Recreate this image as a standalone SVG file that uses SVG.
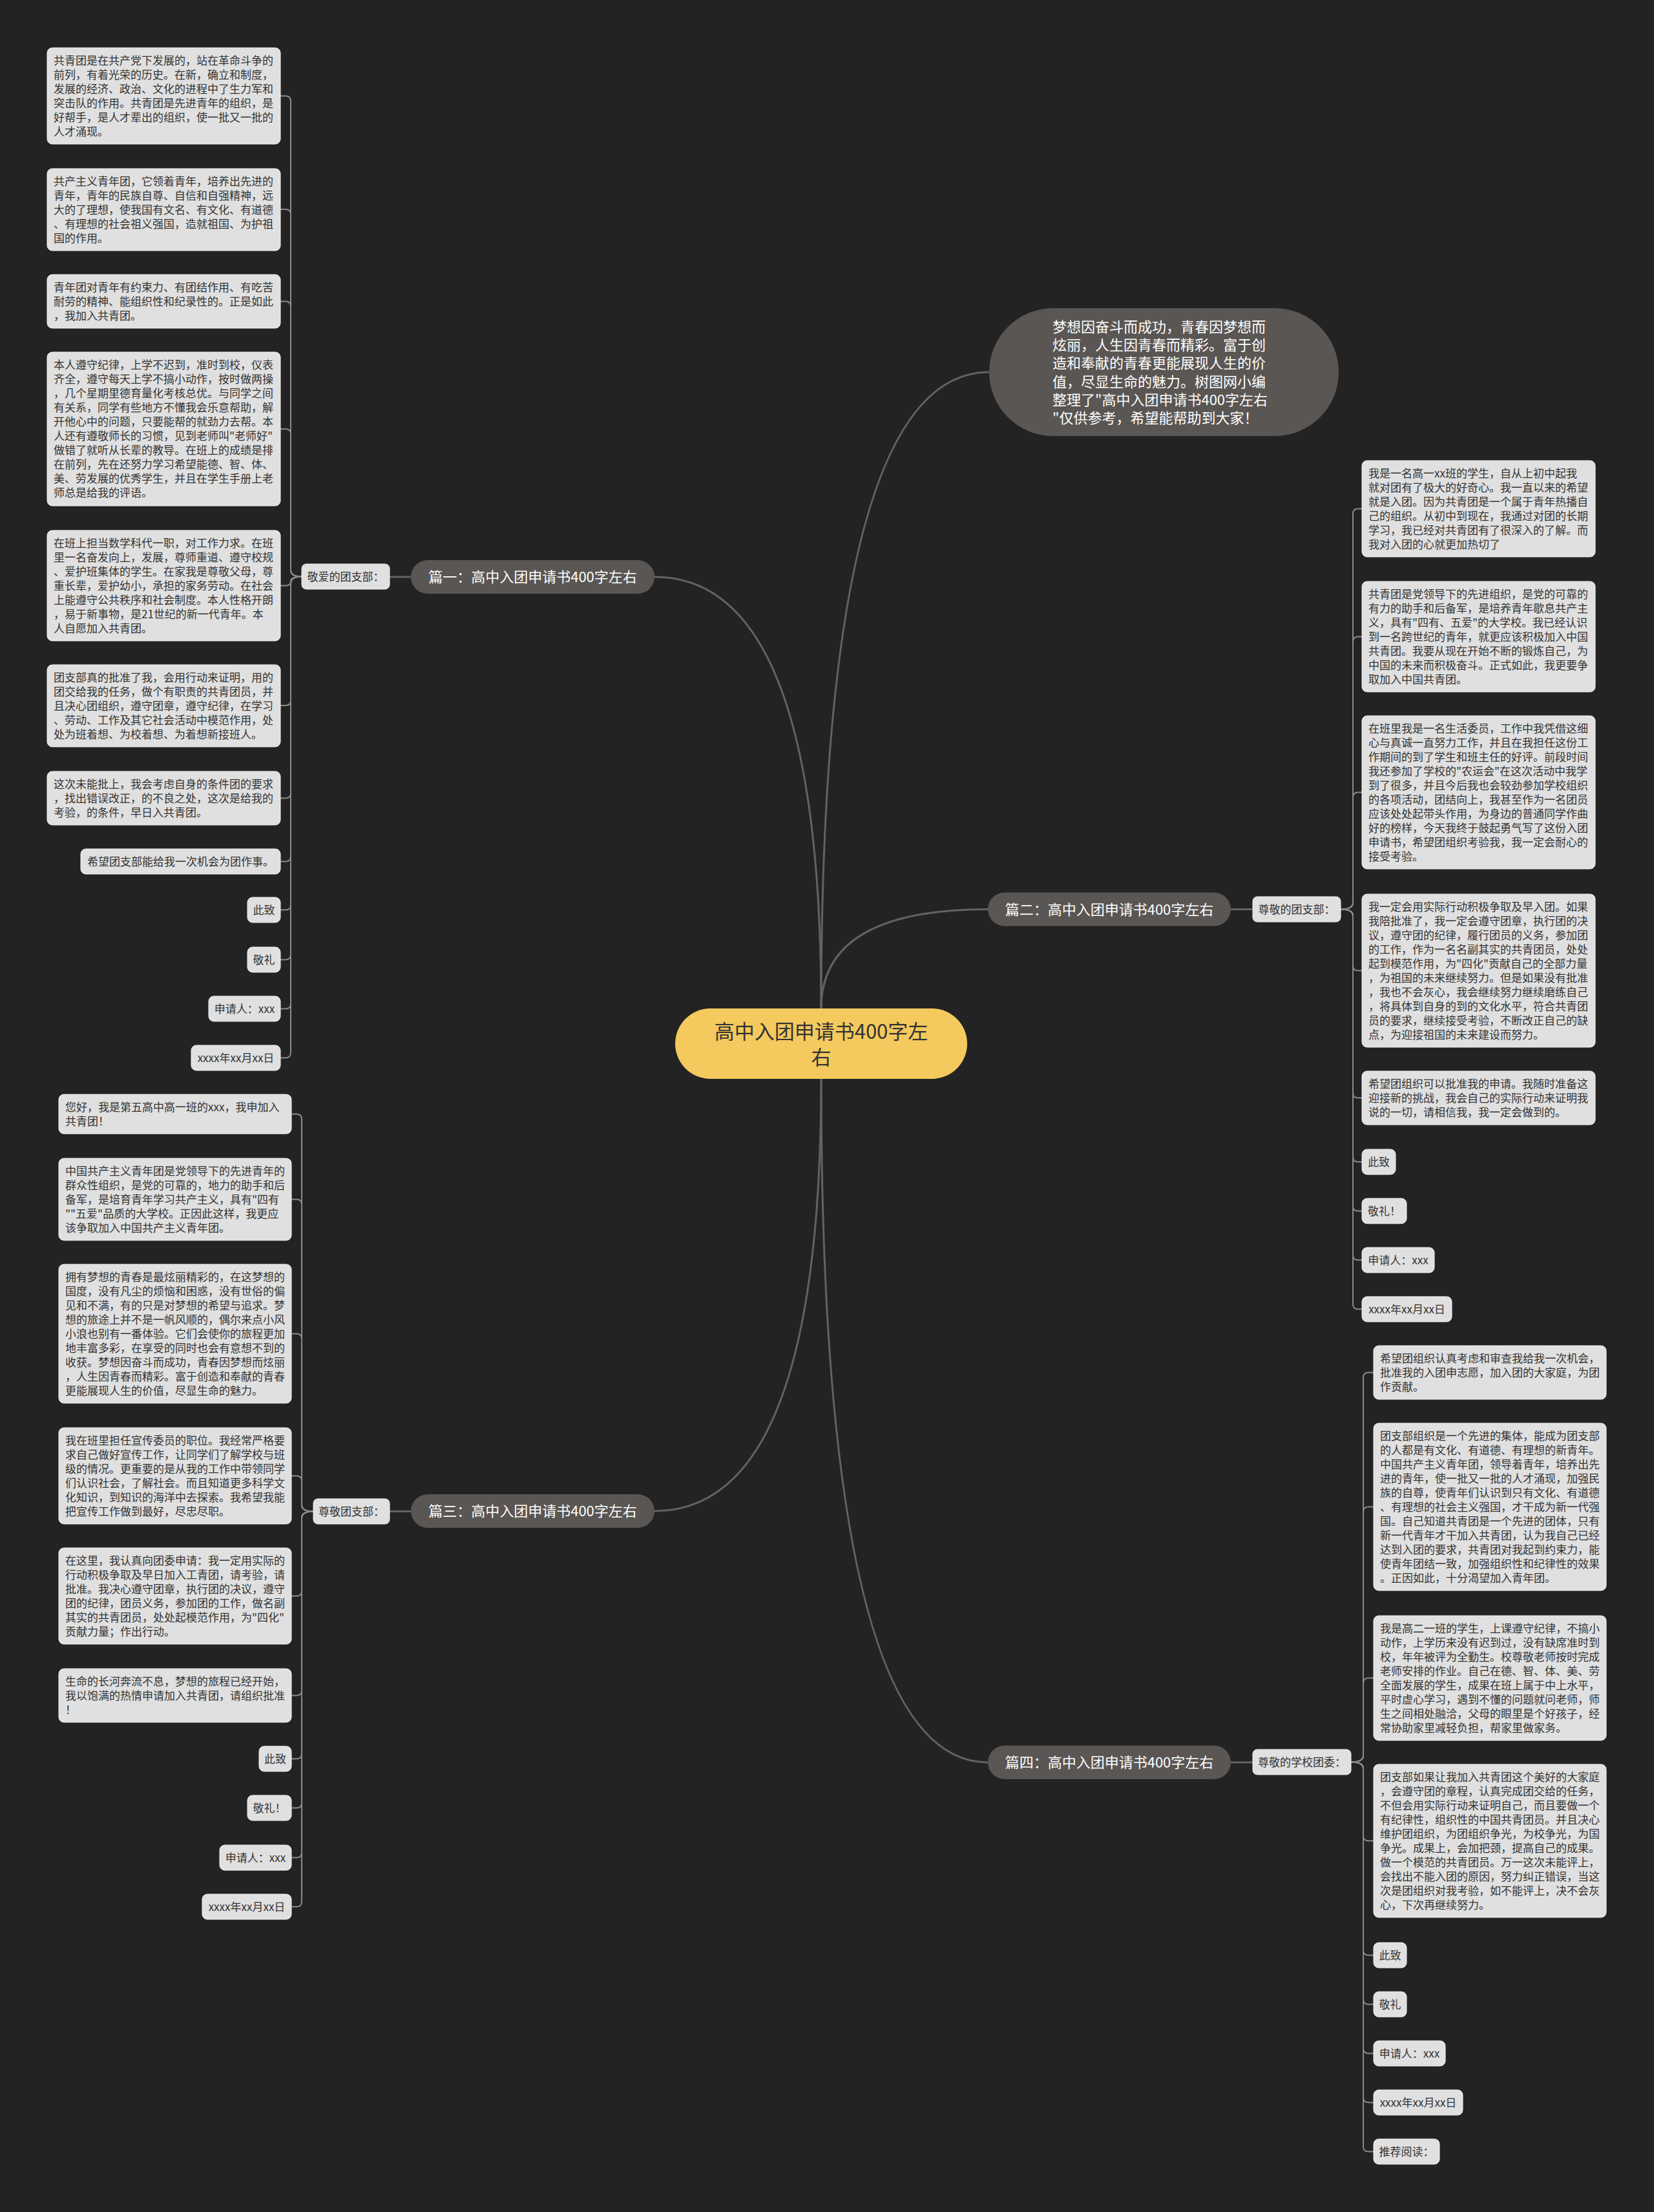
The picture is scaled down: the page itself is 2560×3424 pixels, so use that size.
<svg xmlns="http://www.w3.org/2000/svg" width="2560" height="3424" viewBox="0 0 2560 3424">
<style>
text{font-family:"Noto Sans CJK SC","Noto Sans",sans-serif;}
.leaf{fill:#e0e0e0;stroke:#f0f0f0;stroke-width:1}
.lt{font-size:17px;fill:#333333}
.ltc{font-size:17px;fill:#333333;text-anchor:middle}
.br{fill:#5a5653}
.bt{font-size:22px;fill:#ffffff;text-anchor:middle}
.it{font-size:22px;fill:#ffffff}
.ct{font-size:31px;fill:#333333;text-anchor:middle}
.c1{fill:none;stroke:#636363;stroke-width:3}
.c2{fill:none;stroke:#8a8a8a;stroke-width:2}
</style>
<rect width="2560" height="3424" fill="#232323"/>
<g id="connectors">
<path class="c1" d="M1271 1561Q1271 893 1013 893"/>
<path class="c1" d="M1271 1561Q1271 576 1531 576"/>
<path class="c1" d="M1271 1561Q1271 1407.5 1529 1407.5"/>
<path class="c1" d="M1271 1670Q1271 2339 1013 2339"/>
<path class="c1" d="M1271 1670Q1271 2728 1529 2728"/>
<path class="c1" d="M636 893H603"/>
<path class="c1" d="M1905 1407.5H1939"/>
<path class="c1" d="M636 2339.5H603"/>
<path class="c1" d="M1905 2728H1939"/>
<path class="c2" d="M467 892.5Q450 892.5 450 882.5V156.5Q450 148.5 442 148.5H434"/>
<path class="c2" d="M467 892.5Q450 892.5 450 882.5V332Q450 324 442 324H434"/>
<path class="c2" d="M467 892.5Q450 892.5 450 882.5V474.5Q450 466.5 442 466.5H434"/>
<path class="c2" d="M467 892.5Q450 892.5 450 882.5V672Q450 664 442 664H434"/>
<path class="c2" d="M467 892.5Q450 892.5 450 899.5Q450 906.5 442 906.5H434"/>
<path class="c2" d="M467 892.5Q450 892.5 450 902.5V1084Q450 1092 442 1092H434"/>
<path class="c2" d="M467 892.5Q450 892.5 450 902.5V1227.5Q450 1235.5 442 1235.5H434"/>
<path class="c2" d="M467 892.5Q450 892.5 450 902.5V1325.5Q450 1333.5 442 1333.5H434"/>
<path class="c2" d="M467 892.5Q450 892.5 450 902.5V1400.5Q450 1408.5 442 1408.5H434"/>
<path class="c2" d="M467 892.5Q450 892.5 450 902.5V1477.5Q450 1485.5 442 1485.5H434"/>
<path class="c2" d="M467 892.5Q450 892.5 450 902.5V1553.5Q450 1561.5 442 1561.5H434"/>
<path class="c2" d="M467 892.5Q450 892.5 450 902.5V1629.5Q450 1637.5 442 1637.5H434"/>
<path class="c2" d="M485 2339.5Q467 2339.5 467 2329.5V1732.5Q467 1724.5 459 1724.5H451"/>
<path class="c2" d="M485 2339.5Q467 2339.5 467 2329.5V1864.5Q467 1856.5 459 1856.5H451"/>
<path class="c2" d="M485 2339.5Q467 2339.5 467 2329.5V2072.5Q467 2064.5 459 2064.5H451"/>
<path class="c2" d="M485 2339.5Q467 2339.5 467 2329.5V2292.5Q467 2284.5 459 2284.5H451"/>
<path class="c2" d="M485 2339.5Q467 2339.5 467 2349.5V2462.5Q467 2470.5 459 2470.5H451"/>
<path class="c2" d="M485 2339.5Q467 2339.5 467 2349.5V2616.5Q467 2624.5 459 2624.5H451"/>
<path class="c2" d="M485 2339.5Q467 2339.5 467 2349.5V2714.5Q467 2722.5 459 2722.5H451"/>
<path class="c2" d="M485 2339.5Q467 2339.5 467 2349.5V2790.5Q467 2798.5 459 2798.5H451"/>
<path class="c2" d="M485 2339.5Q467 2339.5 467 2349.5V2867.5Q467 2875.5 459 2875.5H451"/>
<path class="c2" d="M485 2339.5Q467 2339.5 467 2349.5V2943.5Q467 2951.5 459 2951.5H451"/>
<path class="c2" d="M2075 1407.5Q2094 1407.5 2094 1397.5V795.5Q2094 787.5 2102 787.5H2108"/>
<path class="c2" d="M2075 1407.5Q2094 1407.5 2094 1397.5V993.5Q2094 985.5 2102 985.5H2108"/>
<path class="c2" d="M2075 1407.5Q2094 1407.5 2094 1397.5V1234.5Q2094 1226.5 2102 1226.5H2108"/>
<path class="c2" d="M2075 1407.5Q2094 1407.5 2094 1417.5V1494.5Q2094 1502.5 2102 1502.5H2108"/>
<path class="c2" d="M2075 1407.5Q2094 1407.5 2094 1417.5V1691.5Q2094 1699.5 2102 1699.5H2108"/>
<path class="c2" d="M2075 1407.5Q2094 1407.5 2094 1417.5V1790.5Q2094 1798.5 2102 1798.5H2108"/>
<path class="c2" d="M2075 1407.5Q2094 1407.5 2094 1417.5V1866.5Q2094 1874.5 2102 1874.5H2108"/>
<path class="c2" d="M2075 1407.5Q2094 1407.5 2094 1417.5V1942.5Q2094 1950.5 2102 1950.5H2108"/>
<path class="c2" d="M2075 1407.5Q2094 1407.5 2094 1417.5V2018.5Q2094 2026.5 2102 2026.5H2108"/>
<path class="c2" d="M2091 2727.5Q2110 2727.5 2110 2717.5V2132.5Q2110 2124.5 2118 2124.5H2126"/>
<path class="c2" d="M2091 2727.5Q2110 2727.5 2110 2717.5V2340.5Q2110 2332.5 2118 2332.5H2126"/>
<path class="c2" d="M2091 2727.5Q2110 2727.5 2110 2717.5V2605.5Q2110 2597.5 2118 2597.5H2126"/>
<path class="c2" d="M2091 2727.5Q2110 2727.5 2110 2737.5V2841.5Q2110 2849.5 2118 2849.5H2126"/>
<path class="c2" d="M2091 2727.5Q2110 2727.5 2110 2737.5V3018.5Q2110 3026.5 2118 3026.5H2126"/>
<path class="c2" d="M2091 2727.5Q2110 2727.5 2110 2737.5V3094.5Q2110 3102.5 2118 3102.5H2126"/>
<path class="c2" d="M2091 2727.5Q2110 2727.5 2110 2737.5V3170.5Q2110 3178.5 2118 3178.5H2126"/>
<path class="c2" d="M2091 2727.5Q2110 2727.5 2110 2737.5V3246.5Q2110 3254.5 2118 3254.5H2126"/>
<path class="c2" d="M2091 2727.5Q2110 2727.5 2110 2737.5V3322.5Q2110 3330.5 2118 3330.5H2126"/>
</g>
<g id="center"><rect x="1045" y="1561" width="452" height="109" rx="54.5" fill="#f4c95d"/><text class="ct" x="1271" y="1608">高中入团申请书400字左</text><text class="ct" x="1271" y="1648">右</text></g>
<g id="intro"><rect x="1531" y="477" width="541" height="198" rx="99" class="br"/><text class="it"><tspan x="1629" y="514">梦想因奋斗而成功，青春因梦想而</tspan><tspan x="1629" y="542">炫丽，人生因青春而精彩。富于创</tspan><tspan x="1629" y="570">造和奉献的青春更能展现人生的价</tspan><tspan x="1629" y="599">值，尽显生命的魅力。树图网小编</tspan><tspan x="1629" y="627">整理了"高中入团申请书400字左右</tspan><tspan x="1629" y="655">"仅供参考，希望能帮助到大家！</tspan></text></g>
<g id="b1"><rect x="636" y="867" width="377" height="52" rx="26" class="br"/><text class="bt" x="824.5" y="901">篇一：高中入团申请书400字左右</text></g>
<g id="b2"><rect x="1529" y="1381.5" width="376" height="52" rx="26" class="br"/><text class="bt" x="1717" y="1416">篇二：高中入团申请书400字左右</text></g>
<g id="b3"><rect x="636" y="2313" width="377" height="52" rx="26" class="br"/><text class="bt" x="824.5" y="2347">篇三：高中入团申请书400字左右</text></g>
<g id="b4"><rect x="1529" y="2702" width="376" height="52" rx="26" class="br"/><text class="bt" x="1717" y="2736">篇四：高中入团申请书400字左右</text></g>
<g id="s1"><rect class="leaf" x="467" y="873" width="136" height="39" rx="7"/><text class="ltc" x="535" y="899">敬爱的团支部：</text></g>
<g id="s2"><rect class="leaf" x="1939" y="1388" width="136" height="39" rx="7"/><text class="ltc" x="2007" y="1414">尊敬的团支部：</text></g>
<g id="s3"><rect class="leaf" x="485" y="2320" width="118" height="39" rx="7"/><text class="ltc" x="544" y="2346">尊敬团支部：</text></g>
<g id="s4"><rect class="leaf" x="1939" y="2708" width="152" height="39" rx="7"/><text class="ltc" x="2015" y="2734">尊敬的学校团委：</text></g>
<g id="L1a"><rect class="leaf" x="73" y="74" width="361" height="149" rx="8"/><text class="lt"><tspan x="83" y="100">共青团是在共产党下发展的，站在革命斗争的</tspan><tspan x="83" dy="22">前列，有着光荣的历史。在新，确立和制度，</tspan><tspan x="83" dy="22">发展的经济、政治、文化的进程中了生力军和</tspan><tspan x="83" dy="22">突击队的作用。共青团是先进青年的组织，是</tspan><tspan x="83" dy="22">好帮手，是人才辈出的组织，使一批又一批的</tspan><tspan x="83" dy="22">人才涌现。</tspan></text></g>
<g id="L1b"><rect class="leaf" x="73" y="261" width="361" height="127" rx="8"/><text class="lt"><tspan x="83" y="287">共产主义青年团，它领着青年，培养出先进的</tspan><tspan x="83" dy="22">青年，青年的民族自尊、自信和自强精神，远</tspan><tspan x="83" dy="22">大的了理想，使我国有文名、有文化、有道德</tspan><tspan x="83" dy="22">、有理想的社会祖义强国，造就祖国、为护祖</tspan><tspan x="83" dy="22">国的作用。</tspan></text></g>
<g id="L1c"><rect class="leaf" x="73" y="425" width="361" height="83" rx="8"/><text class="lt"><tspan x="83" y="451">青年团对青年有约束力、有团结作用、有吃苦</tspan><tspan x="83" dy="22">耐劳的精神、能组织性和纪录性的。正是如此</tspan><tspan x="83" dy="22">，我加入共青团。</tspan></text></g>
<g id="L1d"><rect class="leaf" x="73" y="545" width="361" height="238" rx="8"/><text class="lt"><tspan x="83" y="571">本人遵守纪律，上学不迟到，准时到校，仪表</tspan><tspan x="83" dy="22">齐全，遵守每天上学不搞小动作，按时做两操</tspan><tspan x="83" dy="22">，几个星期里德育量化考核总优。与同学之间</tspan><tspan x="83" dy="22">有关系，同学有些地方不懂我会乐意帮助，解</tspan><tspan x="83" dy="22">开他心中的问题，只要能帮的就劲力去帮。本</tspan><tspan x="83" dy="22">人还有遵敬师长的习惯，见到老师叫"老师好"</tspan><tspan x="83" dy="22">做错了就听从长辈的教导。在班上的成绩是排</tspan><tspan x="83" dy="22">在前列，先在还努力学习希望能德、智、体、</tspan><tspan x="83" dy="22">美、劳发展的优秀学生，并且在学生手册上老</tspan><tspan x="83" dy="22">师总是给我的评语。</tspan></text></g>
<g id="L1e"><rect class="leaf" x="73" y="821" width="361" height="171" rx="8"/><text class="lt"><tspan x="83" y="847">在班上担当数学科代一职，对工作力求。在班</tspan><tspan x="83" dy="22">里一名奋发向上，发展，尊师重道、遵守校规</tspan><tspan x="83" dy="22">、爱护班集体的学生。在家我是尊敬父母，尊</tspan><tspan x="83" dy="22">重长辈，爱护幼小，承担的家务劳动。在社会</tspan><tspan x="83" dy="22">上能遵守公共秩序和社会制度。本人性格开朗</tspan><tspan x="83" dy="22">，易于新事物，是21世纪的新一代青年。本</tspan><tspan x="83" dy="22">人自愿加入共青团。</tspan></text></g>
<g id="L1f"><rect class="leaf" x="73" y="1029" width="361" height="127" rx="8"/><text class="lt"><tspan x="83" y="1055">团支部真的批准了我，会用行动来证明，用的</tspan><tspan x="83" dy="22">团交给我的任务，做个有职责的共青团员，并</tspan><tspan x="83" dy="22">且决心团组织，遵守团章，遵守纪律，在学习</tspan><tspan x="83" dy="22">、劳动、工作及其它社会活动中模范作用，处</tspan><tspan x="83" dy="22">处为班着想、为校着想、为着想新接班人。</tspan></text></g>
<g id="L1g"><rect class="leaf" x="73" y="1194" width="361" height="83" rx="8"/><text class="lt"><tspan x="83" y="1220">这次未能批上，我会考虑自身的条件团的要求</tspan><tspan x="83" dy="22">，找出错误改正，的不良之处，这次是给我的</tspan><tspan x="83" dy="22">考验，的条件，早日入共青团。</tspan></text></g>
<g id="L1h"><rect class="leaf" x="125" y="1314" width="309" height="39" rx="8"/><text class="ltc" x="279.5" y="1340">希望团支部能给我一次机会为团作事。</text></g>
<g id="L1i"><rect class="leaf" x="383" y="1389" width="51" height="39" rx="8"/><text class="ltc" x="408.5" y="1415">此致</text></g>
<g id="L1j"><rect class="leaf" x="383" y="1466" width="51" height="39" rx="8"/><text class="ltc" x="408.5" y="1492">敬礼</text></g>
<g id="L1k"><rect class="leaf" x="323" y="1542" width="111" height="39" rx="8"/><text class="ltc" x="378.5" y="1568">申请人：xxx</text></g>
<g id="L1l"><rect class="leaf" x="296" y="1618" width="138" height="39" rx="8"/><text class="ltc" x="365" y="1644">xxxx年xx月xx日</text></g>
<g id="L3a"><rect class="leaf" x="91" y="1694" width="360" height="61" rx="8"/><text class="lt"><tspan x="101" y="1720">您好，我是第五高中高一班的xxx，我申加入</tspan><tspan x="101" dy="22">共青团！</tspan></text></g>
<g id="L3b"><rect class="leaf" x="91" y="1793" width="360" height="127" rx="8"/><text class="lt"><tspan x="101" y="1819">中国共产主义青年团是党领导下的先进青年的</tspan><tspan x="101" dy="22">群众性组织，是党的可靠的，地力的助手和后</tspan><tspan x="101" dy="22">备军，是培育青年学习共产主义，具有"四有</tspan><tspan x="101" dy="22">""五爱"品质的大学校。正因此这样，我更应</tspan><tspan x="101" dy="22">该争取加入中国共产主义青年团。</tspan></text></g>
<g id="L3c"><rect class="leaf" x="91" y="1957" width="360" height="215" rx="8"/><text class="lt"><tspan x="101" y="1983">拥有梦想的青春是最炫丽精彩的，在这梦想的</tspan><tspan x="101" dy="22">国度，没有凡尘的烦恼和困惑，没有世俗的偏</tspan><tspan x="101" dy="22">见和不满，有的只是对梦想的希望与追求。梦</tspan><tspan x="101" dy="22">想的旅途上并不是一帆风顺的，偶尔来点小风</tspan><tspan x="101" dy="22">小浪也别有一番体验。它们会使你的旅程更加</tspan><tspan x="101" dy="22">地丰富多彩，在享受的同时也会有意想不到的</tspan><tspan x="101" dy="22">收获。梦想因奋斗而成功，青春因梦想而炫丽</tspan><tspan x="101" dy="22">，人生因青春而精彩。富于创造和奉献的青春</tspan><tspan x="101" dy="22">更能展现人生的价值，尽显生命的魅力。</tspan></text></g>
<g id="L3d"><rect class="leaf" x="91" y="2210" width="360" height="149" rx="8"/><text class="lt"><tspan x="101" y="2236">我在班里担任宣传委员的职位。我经常严格要</tspan><tspan x="101" dy="22">求自己做好宣传工作，让同学们了解学校与班</tspan><tspan x="101" dy="22">级的情况。更重要的是从我的工作中带领同学</tspan><tspan x="101" dy="22">们认识社会，了解社会。而且知道更多科学文</tspan><tspan x="101" dy="22">化知识，到知识的海洋中去探索。我希望我能</tspan><tspan x="101" dy="22">把宣传工作做到最好，尽忠尽职。</tspan></text></g>
<g id="L3e"><rect class="leaf" x="91" y="2396" width="360" height="149" rx="8"/><text class="lt"><tspan x="101" y="2422">在这里，我认真向团委申请：我一定用实际的</tspan><tspan x="101" dy="22">行动积极争取及早日加入工青团，请考验，请</tspan><tspan x="101" dy="22">批准。我决心遵守团章，执行团的决议，遵守</tspan><tspan x="101" dy="22">团的纪律，团员义务，参加团的工作，做名副</tspan><tspan x="101" dy="22">其实的共青团员，处处起模范作用，为"四化"</tspan><tspan x="101" dy="22">贡献力量；作出行动。</tspan></text></g>
<g id="L3f"><rect class="leaf" x="91" y="2583" width="360" height="83" rx="8"/><text class="lt"><tspan x="101" y="2609">生命的长河奔流不息，梦想的旅程已经开始，</tspan><tspan x="101" dy="22">我以饱满的热情申请加入共青团，请组织批准</tspan><tspan x="101" dy="22">！</tspan></text></g>
<g id="L3g"><rect class="leaf" x="401" y="2703" width="50" height="39" rx="8"/><text class="ltc" x="426" y="2729">此致</text></g>
<g id="L3h"><rect class="leaf" x="383" y="2779" width="68" height="39" rx="8"/><text class="ltc" x="417" y="2805">敬礼！</text></g>
<g id="L3i"><rect class="leaf" x="340" y="2856" width="111" height="39" rx="8"/><text class="ltc" x="395.5" y="2882">申请人：xxx</text></g>
<g id="L3j"><rect class="leaf" x="313" y="2932" width="138" height="39" rx="8"/><text class="ltc" x="382" y="2958">xxxx年xx月xx日</text></g>
<g id="R2a"><rect class="leaf" x="2108" y="713" width="361" height="149" rx="8"/><text class="lt"><tspan x="2118" y="739">我是一名高一xx班的学生，自从上初中起我</tspan><tspan x="2118" dy="22">就对团有了极大的好奇心。我一直以来的希望</tspan><tspan x="2118" dy="22">就是入团。因为共青团是一个属于青年热播自</tspan><tspan x="2118" dy="22">己的组织。从初中到现在，我通过对团的长期</tspan><tspan x="2118" dy="22">学习，我已经对共青团有了很深入的了解。而</tspan><tspan x="2118" dy="22">我对入团的心就更加热切了</tspan></text></g>
<g id="R2b"><rect class="leaf" x="2108" y="900" width="361" height="171" rx="8"/><text class="lt"><tspan x="2118" y="926">共青团是党领导下的先进组织，是党的可靠的</tspan><tspan x="2118" dy="22">有力的助手和后备军，是培养青年歇息共产主</tspan><tspan x="2118" dy="22">义，具有"四有、五爱"的大学校。我已经认识</tspan><tspan x="2118" dy="22">到一名跨世纪的青年，就更应该积极加入中国</tspan><tspan x="2118" dy="22">共青团。我要从现在开始不断的锻炼自己，为</tspan><tspan x="2118" dy="22">中国的未来而积极奋斗。正式如此，我更要争</tspan><tspan x="2118" dy="22">取加入中国共青团。</tspan></text></g>
<g id="R2c"><rect class="leaf" x="2108" y="1108" width="361" height="237" rx="8"/><text class="lt"><tspan x="2118" y="1134">在班里我是一名生活委员，工作中我凭借这细</tspan><tspan x="2118" dy="22">心与真诚一直努力工作，并且在我担任这份工</tspan><tspan x="2118" dy="22">作期间的到了学生和班主任的好评。前段时间</tspan><tspan x="2118" dy="22">我还参加了学校的"农运会"在这次活动中我学</tspan><tspan x="2118" dy="22">到了很多，并且今后我也会较劲参加学校组织</tspan><tspan x="2118" dy="22">的各项活动，团结向上，我甚至作为一名团员</tspan><tspan x="2118" dy="22">应该处处起带头作用，为身边的普通同学作曲</tspan><tspan x="2118" dy="22">好的榜样，今天我终于鼓起勇气写了这份入团</tspan><tspan x="2118" dy="22">申请书，希望团组织考验我，我一定会耐心的</tspan><tspan x="2118" dy="22">接受考验。</tspan></text></g>
<g id="R2d"><rect class="leaf" x="2108" y="1384" width="361" height="237" rx="8"/><text class="lt"><tspan x="2118" y="1410">我一定会用实际行动积极争取及早入团。如果</tspan><tspan x="2118" dy="22">我陪批准了，我一定会遵守团章，执行团的决</tspan><tspan x="2118" dy="22">议，遵守团的纪律，履行团员的义务，参加团</tspan><tspan x="2118" dy="22">的工作，作为一名名副其实的共青团员，处处</tspan><tspan x="2118" dy="22">起到模范作用，为"四化"贡献自己的全部力量</tspan><tspan x="2118" dy="22">，为祖国的未来继续努力。但是如果没有批准</tspan><tspan x="2118" dy="22">，我也不会灰心，我会继续努力继续磨练自己</tspan><tspan x="2118" dy="22">，将具体到自身的到的文化水平，符合共青团</tspan><tspan x="2118" dy="22">员的要求，继续接受考验，不断改正自己的缺</tspan><tspan x="2118" dy="22">点，为迎接祖国的未来建设而努力。</tspan></text></g>
<g id="R2e"><rect class="leaf" x="2108" y="1658" width="361" height="83" rx="8"/><text class="lt"><tspan x="2118" y="1684">希望团组织可以批准我的申请。我随时准备这</tspan><tspan x="2118" dy="22">迎接新的挑战，我会自己的实际行动来证明我</tspan><tspan x="2118" dy="22">说的一切，请相信我，我一定会做到的。</tspan></text></g>
<g id="R2f"><rect class="leaf" x="2108" y="1779" width="52" height="39" rx="8"/><text class="ltc" x="2134" y="1805">此致</text></g>
<g id="R2g"><rect class="leaf" x="2108" y="1855" width="69" height="39" rx="8"/><text class="ltc" x="2142.5" y="1881">敬礼！</text></g>
<g id="R2h"><rect class="leaf" x="2108" y="1931" width="112" height="39" rx="8"/><text class="ltc" x="2164" y="1957">申请人：xxx</text></g>
<g id="R2i"><rect class="leaf" x="2108" y="2007" width="139" height="39" rx="8"/><text class="ltc" x="2177.5" y="2033">xxxx年xx月xx日</text></g>
<g id="R4a"><rect class="leaf" x="2126" y="2083" width="360" height="83" rx="8"/><text class="lt"><tspan x="2136" y="2109">希望团组织认真考虑和审查我给我一次机会，</tspan><tspan x="2136" dy="22">批准我的入团申志愿，加入团的大家庭，为团</tspan><tspan x="2136" dy="22">作贡献。</tspan></text></g>
<g id="R4b"><rect class="leaf" x="2126" y="2203" width="360" height="259" rx="8"/><text class="lt"><tspan x="2136" y="2229">团支部组织是一个先进的集体，能成为团支部</tspan><tspan x="2136" dy="22">的人都是有文化、有道德、有理想的新青年。</tspan><tspan x="2136" dy="22">中国共产主义青年团，领导着青年，培养出先</tspan><tspan x="2136" dy="22">进的青年，使一批又一批的人才涌现，加强民</tspan><tspan x="2136" dy="22">族的自尊，使青年们认识到只有文化、有道德</tspan><tspan x="2136" dy="22">、有理想的社会主义强国，才干成为新一代强</tspan><tspan x="2136" dy="22">国。自己知道共青团是一个先进的团体，只有</tspan><tspan x="2136" dy="22">新一代青年才干加入共青团，认为我自己已经</tspan><tspan x="2136" dy="22">达到入团的要求，共青团对我起到约束力，能</tspan><tspan x="2136" dy="22">使青年团结一致，加强组织性和纪律性的效果</tspan><tspan x="2136" dy="22">。正因如此，十分渴望加入青年团。</tspan></text></g>
<g id="R4c"><rect class="leaf" x="2126" y="2501" width="360" height="193" rx="8"/><text class="lt"><tspan x="2136" y="2527">我是高二一班的学生，上课遵守纪律，不搞小</tspan><tspan x="2136" dy="22">动作，上学历来没有迟到过，没有缺席准时到</tspan><tspan x="2136" dy="22">校，年年被评为全勤生。校尊敬老师按时完成</tspan><tspan x="2136" dy="22">老师安排的作业。自己在德、智、体、美、劳</tspan><tspan x="2136" dy="22">全面发展的学生，成果在班上属于中上水平，</tspan><tspan x="2136" dy="22">平时虚心学习，遇到不懂的问题就问老师，师</tspan><tspan x="2136" dy="22">生之间相处融洽，父母的眼里是个好孩子，经</tspan><tspan x="2136" dy="22">常协助家里减轻负担，帮家里做家务。</tspan></text></g>
<g id="R4d"><rect class="leaf" x="2126" y="2731" width="360" height="237" rx="8"/><text class="lt"><tspan x="2136" y="2757">团支部如果让我加入共青团这个美好的大家庭</tspan><tspan x="2136" dy="22">，会遵守团的章程，认真完成团交给的任务，</tspan><tspan x="2136" dy="22">不但会用实际行动来证明自己，而且要做一个</tspan><tspan x="2136" dy="22">有纪律性，组织性的中国共青团员。并且决心</tspan><tspan x="2136" dy="22">维护团组织，为团组织争光，为校争光，为国</tspan><tspan x="2136" dy="22">争光。成果上，会加把颈，提高自己的成果。</tspan><tspan x="2136" dy="22">做一个模范的共青团员。万一这次未能评上，</tspan><tspan x="2136" dy="22">会找出不能入团的原因，努力纠正错误，当这</tspan><tspan x="2136" dy="22">次是团组织对我考验，如不能评上，决不会灰</tspan><tspan x="2136" dy="22">心，下次再继续努力。</tspan></text></g>
<g id="R4e"><rect class="leaf" x="2126" y="3007" width="51" height="39" rx="8"/><text class="ltc" x="2151.5" y="3033">此致</text></g>
<g id="R4f"><rect class="leaf" x="2126" y="3083" width="51" height="39" rx="8"/><text class="ltc" x="2151.5" y="3109">敬礼</text></g>
<g id="R4g"><rect class="leaf" x="2126" y="3159" width="111" height="39" rx="8"/><text class="ltc" x="2181.5" y="3185">申请人：xxx</text></g>
<g id="R4h"><rect class="leaf" x="2126" y="3235" width="138" height="39" rx="8"/><text class="ltc" x="2195" y="3261">xxxx年xx月xx日</text></g>
<g id="R4i"><rect class="leaf" x="2126" y="3311" width="102" height="39" rx="8"/><text class="ltc" x="2177" y="3337">推荐阅读：</text></g>
</svg>
